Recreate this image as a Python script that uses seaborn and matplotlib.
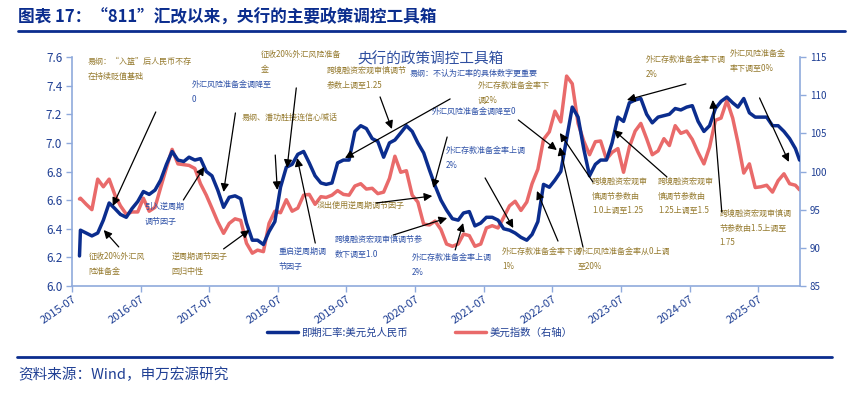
import pandas as pd
import numpy as np
import matplotlib.pyplot as plt
import matplotlib.dates as mdates
import seaborn as sns

sns.set_theme(style="white")
plt.rcParams['font.family'] = ['Noto Sans CJK SC', 'DejaVu Sans']
plt.rcParams['axes.unicode_minus'] = False

# colours
NAVY = "#0B2D8E"
RED = "#E96A6A"
TXT = "#1F3F94"
GOLD = "#957A2E"
BLUE = "#2F52A8"
SPINE = "#8FAADC"

# ---- data (mid-month readings) ----
first_day = "2015-08-10"
last_day = "2026-02-06"
months = pd.date_range("2015-08-01", "2026-01-01", freq="MS") + pd.Timedelta(days=14)

# USD/CNY spot
cny_start, cny_end = 6.21, 6.88
cny_2015 = [6.39, 6.37, 6.35, 6.37, 6.46]
cny_2016 = [6.58, 6.54, 6.50, 6.48, 6.54, 6.59, 6.66, 6.64, 6.67, 6.74, 6.85, 6.94]
cny_2017 = [6.88, 6.87, 6.90, 6.88, 6.89, 6.80, 6.77, 6.67, 6.55, 6.62, 6.63, 6.61]
cny_2018 = [6.44, 6.32, 6.32, 6.29, 6.38, 6.45, 6.69, 6.83, 6.85, 6.92, 6.94, 6.86]
cny_2019 = [6.77, 6.72, 6.71, 6.72, 6.86, 6.88, 6.88, 7.08, 7.12, 7.10, 7.03, 7.01]
cny_2020 = [6.90, 7.00, 7.02, 7.07, 7.12, 7.08, 7.00, 6.93, 6.81, 6.70, 6.60, 6.53]
cny_2021 = [6.47, 6.46, 6.51, 6.52, 6.42, 6.44, 6.48, 6.48, 6.46, 6.40, 6.39, 6.37]
cny_2022 = [6.34, 6.32, 6.36, 6.45, 6.71, 6.69, 6.74, 6.80, 7.03, 7.25, 7.18, 6.96]
cny_2023 = [6.77, 6.85, 6.88, 6.88, 7.00, 7.18, 7.15, 7.28, 7.30, 7.31, 7.20, 7.14]
cny_2024 = [7.18, 7.19, 7.20, 7.24, 7.23, 7.25, 7.26, 7.15, 7.08, 7.12, 7.24, 7.29]
cny_2025 = [7.32, 7.28, 7.25, 7.31, 7.21, 7.18, 7.18, 7.18, 7.12, 7.12, 7.08, 7.03]
cny_2026 = [6.96]

# US dollar index (right axis)
dxy_start, dxy_end = 96.4, 97.6
dxy_2015 = [96.5, 95.7, 95.0, 99.0, 98.0]
dxy_2016 = [99.0, 96.9, 95.5, 94.4, 94.7, 94.7, 96.5, 94.8, 95.3, 97.9, 100.5, 102.9]
dxy_2017 = [101.0, 100.9, 100.8, 100.4, 98.4, 96.9, 95.2, 93.4, 91.9, 93.2, 93.8, 93.6]
dxy_2018 = [90.6, 89.3, 89.7, 89.5, 93.2, 94.8, 94.6, 96.3, 94.8, 95.2, 96.9, 97.0]
dxy_2019 = [95.7, 96.7, 96.6, 96.9, 97.5, 97.0, 96.9, 98.1, 98.4, 97.7, 97.8, 97.1]
dxy_2020 = [97.3, 99.1, 102.0, 99.9, 100.1, 96.9, 96.0, 93.1, 93.0, 93.5, 92.4, 90.5]
dxy_2021 = [90.2, 90.5, 91.8, 91.6, 90.2, 90.5, 92.6, 92.9, 92.6, 94.0, 95.5, 96.1]
dxy_2022 = [94.9, 96.0, 98.4, 100.3, 104.2, 105.2, 107.9, 106.5, 112.5, 111.5, 106.3, 104.0]
dxy_2023 = [102.2, 103.9, 104.0, 101.6, 102.5, 103.0, 99.9, 103.2, 105.3, 106.3, 104.3, 102.2]
dxy_2024 = [102.7, 104.3, 103.4, 106.0, 105.0, 105.3, 104.2, 102.5, 101.0, 103.2, 106.7, 107.0]
dxy_2025 = [109.3, 107.0, 103.8, 99.8, 101.0, 97.9, 98.0, 98.2, 97.3, 98.8, 99.7, 98.4]
dxy_2026 = [98.2]

dates = [pd.Timestamp(first_day)] + list(months) + [pd.Timestamp(last_day)]
cny = [cny_start] + cny_2015 + cny_2016 + cny_2017 + cny_2018 + cny_2019 + cny_2020 \
    + cny_2021 + cny_2022 + cny_2023 + cny_2024 + cny_2025 + cny_2026 + [cny_end]
dxy = [dxy_start] + dxy_2015 + dxy_2016 + dxy_2017 + dxy_2018 + dxy_2019 + dxy_2020 \
    + dxy_2021 + dxy_2022 + dxy_2023 + dxy_2024 + dxy_2025 + dxy_2026 + [dxy_end]
df = pd.DataFrame({"date": dates, "cny": cny, "dxy": dxy})

# ---- policy notes: text, colour, text anchor (date, CNY level) ----
note_texts = [
    "易纲：“入篮”后人民币不存\n在持续贬值基础",
    "征收20%外汇风\n险准备金",
    "引入逆周期\n调节因子",
    "逆周期调节因子\n回归中性",
    "外汇风险准备金调降至\n0",
    "易纲、潘功胜接连信心喊话",
    "征收20%外汇风险准备\n金",
    "重启逆周期调\n节因子",
    "跨境融资宏观审慎调节\n参数上调至1.25",
    "易纲：不认为汇率的具体数字更重要",
    "外汇存款准备金率下\n调2%",
    "外汇风险准备金调降至0",
    "外汇存款准备金率上调\n2%",
    "淡出使用逆周期调节因子",
    "跨境融资宏观审慎调节参\n数下调至1.0",
    "外汇存款准备金率上调\n2%",
    "外汇存款准备金率下调\n1%",
    "外汇风险准备金率从0上调\n至20%",
    "跨境融资宏观审\n慎调节参数由\n1.0上调至1.25",
    "跨境融资宏观审\n慎调节参数由\n1.25上调至1.5",
    "跨境融资宏观审慎调\n节参数由1.5上调至\n1.75",
    "外汇存款准备金率下调\n2%",
    "外汇风险准备金\n率下调至0%",
]
note_colors = [GOLD, GOLD, BLUE, GOLD, BLUE, GOLD, GOLD, BLUE, GOLD, BLUE, GOLD, BLUE,
               BLUE, GOLD, BLUE, BLUE, GOLD, GOLD, GOLD, GOLD, GOLD, GOLD, GOLD]
note_dates = ["2015-09-22", "2015-09-26", "2016-07-22", "2016-12-12", "2017-03-28",
              "2017-12-19", "2018-04-03", "2018-07-03", "2019-03-20", "2020-06-03",
              "2021-05-31", "2020-09-29", "2020-12-08", "2019-01-26", "2019-05-02",
              "2020-06-13", "2021-10-07", "2022-11-15", "2023-01-28", "2024-01-14",
              "2024-12-08", "2023-11-11", "2025-01-31"]
note_levels = [7.60, 6.238, 6.587, 6.238, 7.44, 7.209, 7.649, 6.272, 7.537, 7.516,
               7.433, 7.251, 6.978, 6.594, 6.356, 6.231, 6.272, 6.272, 6.762, 6.762,
               6.538, 7.614, 7.656]

# arrows: tail -> head (date, CNY level)
arrow_tail = [("2016-09-19", 7.216), ("2016-03-06", 6.273), ("2017-02-13", 6.601),
              ("2017-09-15", 6.259), ("2017-11-17", 7.209), ("2018-06-17", 6.915),
              ("2018-10-07", 7.384), ("2019-01-16", 6.300), ("2019-12-27", 7.321),
              ("2021-01-03", 7.307), ("2022-01-01", 7.160), ("2020-12-18", 7.041),
              ("2021-07-08", 6.755), ("2019-12-06", 6.580), ("2020-03-06", 6.356),
              ("2021-01-30", 6.252), ("2022-07-31", 6.314), ("2022-12-11", 6.273),
              ("2023-02-02", 6.727), ("2024-03-02", 6.762), ("2024-12-19", 6.517),
              ("2024-06-11", 7.412), ("2025-07-08", 7.314)]
arrow_head = [("2016-02-03", 6.559), ("2015-12-17", 6.391), ("2017-06-04", 6.832),
              ("2018-01-31", 6.391), ("2017-09-15", 6.657), ("2018-06-28", 6.671),
              ("2018-08-19", 6.825), ("2018-10-12", 6.894), ("2020-02-28", 7.097),
              ("2019-06-23", 6.894), ("2022-07-25", 6.950), ("2020-10-05", 6.685),
              ("2021-12-05", 6.405), ("2020-09-30", 6.629), ("2020-12-18", 6.475),
              ("2021-03-13", 6.440), ("2022-04-10", 6.664), ("2022-08-10", 6.971),
              ("2022-08-10", 7.069), ("2023-05-24", 7.090), ("2024-11-01", 7.300),
              ("2023-08-02", 7.300), ("2025-12-11", 6.867)]

# ---- figure ----
fig = plt.figure(figsize=(8.62, 3.97), dpi=100)
ax = fig.add_axes([0.0835, 0.2796, 0.8445, 0.5768])
ax2 = ax.twinx()

sns.lineplot(data=df, x="date", y="dxy", ax=ax2, color=RED, lw=2.5, legend=False)
sns.lineplot(data=df, x="date", y="cny", ax=ax, color=NAVY, lw=2.5, legend=False)
ax.set_zorder(ax2.get_zorder() + 1)
ax.patch.set_visible(False)

ax.set_xlim(pd.Timestamp("2015-07-01"), pd.Timestamp("2026-02-08"))
ax.set_ylim(6.0, 7.6)
ax2.set_ylim(85, 115)
ax.set_yticks(np.arange(6.0, 7.61, 0.2))
ax2.set_yticks(np.arange(85, 116, 5))
ax.yaxis.set_major_formatter(plt.FormatStrFormatter("%.1f"))
ax.xaxis.set_major_locator(mdates.MonthLocator(bymonth=7))
ax.xaxis.set_major_formatter(mdates.DateFormatter("%Y-%m"))
ax.set_xlabel("")
ax.set_ylabel("")
ax2.set_ylabel("")

for a in (ax, ax2):
    for side in a.spines:
        a.spines[side].set_visible(False)
ax.spines["left"].set_visible(True)
ax.spines["bottom"].set_visible(True)
ax2.spines["right"].set_visible(True)
for sp in (ax.spines["left"], ax.spines["bottom"], ax2.spines["right"]):
    sp.set_color(SPINE)
    sp.set_linewidth(1.2)

ax.tick_params(axis="y", left=True, length=4, width=1, color=SPINE, labelsize=8.5,
               labelcolor=TXT, pad=3)
ax.tick_params(axis="x", bottom=True, length=4, width=1, color=SPINE, labelsize=8,
               labelcolor=TXT, pad=2)
ax2.tick_params(axis="y", right=True, length=4, width=1, color=SPINE, labelsize=7,
                labelcolor=TXT, pad=3)
for lab in ax.get_xticklabels():
    lab.set_rotation(35)
    lab.set_ha("right")
    lab.set_rotation_mode("anchor")
ax.grid(False)
ax2.grid(False)

# policy annotations
for txt, col, d, lv in zip(note_texts, note_colors, note_dates, note_levels):
    ax.text(pd.Timestamp(d), lv, txt, color=col, fontsize=5.8, ha="left", va="top",
            linespacing=1.8, clip_on=False, zorder=6)
for (td, tv), (hd, hv) in zip(arrow_tail, arrow_head):
    ax.annotate("", xy=(pd.Timestamp(hd), hv), xytext=(pd.Timestamp(td), tv),
                arrowprops=dict(arrowstyle="-|>", color="black", lw=0.9,
                                mutation_scale=12, shrinkA=0, shrinkB=0),
                zorder=7)

fig.text(0.499, 1 - 59 / 397, "央行的政策调控工具箱", color="#2F4FA0", fontsize=10.5,
         ha="center", va="center")

# legend below the plot
handles = [ax.get_lines()[0], ax2.get_lines()[0]]
fig.legend(handles, ["即期汇率:美元兑人民币", "美元指数（右轴）"], loc="center",
           bbox_to_anchor=(0.487, 1 - 333 / 397), ncol=2, frameon=False, fontsize=7.5,
           handlelength=3.0, columnspacing=4.5, handletextpad=0.3, labelcolor=TXT)

# title, rules and source
fig.text(18 / 862, 1 - 18 / 397, "图表 17：“811”汇改以来，央行的主要政策调控工具箱",
         color=NAVY, fontsize=12, fontweight="bold", ha="left", va="center")
fig.add_artist(plt.Line2D([18 / 862, 845 / 862], [1 - 31 / 397, 1 - 31 / 397],
                          color=NAVY, lw=2))
fig.add_artist(plt.Line2D([17 / 862, 832 / 862], [1 - 357 / 397, 1 - 357 / 397],
                          color=NAVY, lw=2))
fig.text(18 / 862, 1 - 375 / 397, "资料来源：Wind，申万宏源研究", color=TXT,
         fontsize=10.5, ha="left", va="center")

fig.savefig("out.png", dpi=100)
plt.close(fig)
